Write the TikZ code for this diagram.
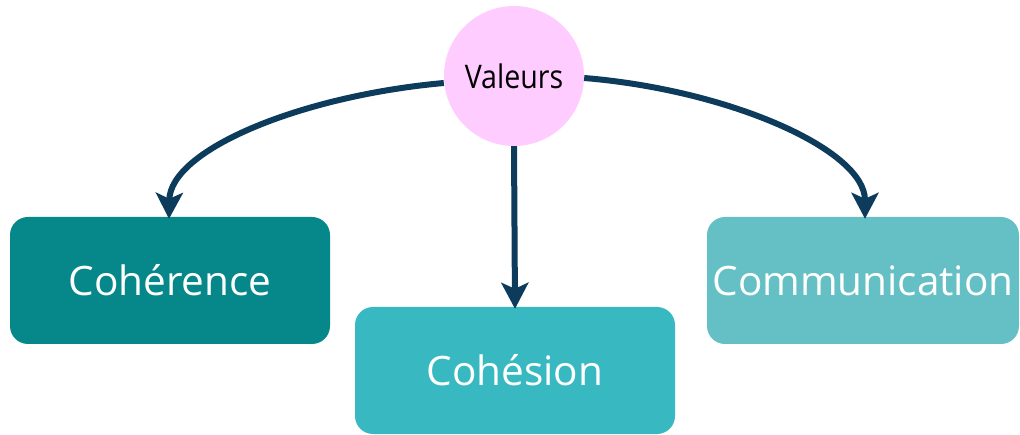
\documentclass[tikz,border=0pt]{standalone}
\usepackage{fontspec}
\setmainfont{Open Sans}
\newfontfamily\narrowfont[FakeStretch=0.88]{Open Sans}
\usetikzlibrary{arrows.meta}
\definecolor{pinkfill}{HTML}{FFCCFF}
\definecolor{arrowblue}{HTML}{0C3B5C}
\definecolor{tealdark}{HTML}{06888A}
\definecolor{tealmid}{HTML}{38B9C2}
\definecolor{teallight}{HTML}{64C0C4}
\tikzset{
  card/.style={rectangle, rounded corners=18pt, minimum height=127pt, inner sep=0pt,
    text=white, font=\fontsize{40.5}{46}\selectfont},
  link/.style={draw=arrowblue, line width=6pt,
    -{Stealth[length=26pt,width=27pt,inset=6pt]}},
}
\begin{document}
\begin{tikzpicture}[x=1pt,y=-1pt]
  \useasboundingbox (0,0) rectangle (1020,435);
  \node[circle, fill=pinkfill, minimum size=140pt, inner sep=0pt,
        font=\narrowfont\fontsize{32.5}{37}\selectfont] (val) at (514,76) {Valeurs};
  \node[card, fill=tealdark, minimum width=320pt] (coh) at (170,280.5) {Cohérence};
  \node[card, fill=tealmid, minimum width=320pt] (cohes) at (515,370.5) {Cohésion};
  \node[card, fill=teallight, minimum width=312pt] (comm) at (863,280.5) {Communication};
  \coordinate (lt) at ([xshift=-1pt]coh.north);
  \coordinate (rt) at ([xshift=2pt]comm.north);
  \draw[link] (val.west |- 0,83) .. controls (300,96) and (170,150) .. ([yshift=-2pt]lt);
  \draw[link] (val.south) -- ([yshift=-2pt]cohes.north);
  \draw[link] (val.east |- 0,78) .. controls (730,90) and (865,150) .. ([yshift=-2pt]rt);
\end{tikzpicture}
\end{document}
